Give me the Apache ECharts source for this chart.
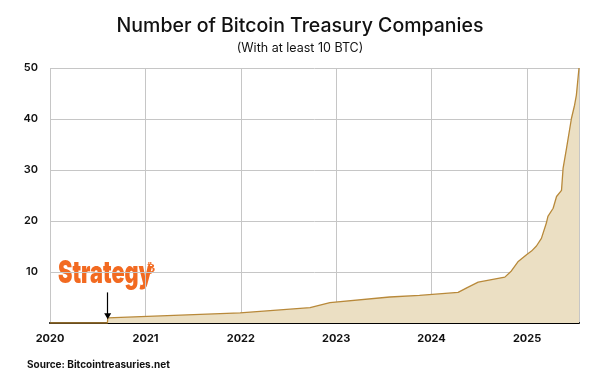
<!DOCTYPE html>
<html>
<head>
<meta charset="utf-8">
<style>
  html, body { margin: 0; padding: 0; background: #fff; }
  #main { width: 600px; height: 375px; }
</style>
<script src="https://cdn.jsdelivr.net/npm/echarts@6/dist/echarts.min.js"></script>
</head>
<body>
<div id="main"></div>
<script>
// dates and company counts
var dates = [
    '2020-01-01', '2020-08-08', '2020-08-09', '2021-12-29', '2022-09-23', '2022-12-08',
    '2023-07-25', '2023-11-16', '2024-04-12', '2024-05-15', '2024-06-28', '2024-10-08',
    '2024-11-02', '2024-11-27', '2024-12-30', '2025-01-18', '2025-02-06', '2025-02-25',
    '2025-03-16', '2025-03-22', '2025-04-11', '2025-04-24', '2025-05-13', '2025-05-19',
    '2025-06-01', '2025-06-20', '2025-07-02', '2025-07-09', '2025-07-19'
];
var companies = [
    0, 0, 1, 2, 3, 4,
    5.1, 5.4, 6, 6.9, 8, 9,
    10.2, 12, 13.4, 14.1, 15.1, 16.6,
    19.6, 20.9, 22.5, 24.8, 26, 30.3,
    34.2, 40.1, 42.7, 44.7, 50
];
var yTicks = [0, 10, 20, 30, 40, 50];
var strategyDate = '2020-08-09';

var myChart = echarts.init(document.getElementById('main'));

var YEAR = 365 * 24 * 3600 * 1000;

myChart.setOption({
    backgroundColor: '#fff',
    animation: false,
    title: [{
        text: 'Number of Bitcoin Treasury Companies',
        left: 'center',
        top: 11,
        textStyle: { fontFamily: 'Inter', fontSize: 19.5, fontWeight: 500, color: '#111' }
    }, {
        text: '(With at least 10 BTC)',
        left: 'center',
        top: 37,
        textStyle: { fontFamily: 'Inter', fontSize: 12.5, fontWeight: 'normal', color: '#111' }
    }, {
        text: 'Source: Bitcointreasuries.net',
        left: 22,
        top: 355,
        textStyle: { fontFamily: 'Inter', fontSize: 10, fontWeight: 'bold', color: '#111' }
    }],
    grid: { left: 50, right: 21, top: 68, bottom: 52 },
    xAxis: {
        type: 'time',
        min: dates[0],
        max: dates[dates.length - 1],
        minInterval: YEAR,
        maxInterval: YEAR,
        axisLine: { lineStyle: { color: '#000', width: 2 } },
        axisTick: { show: false },
        axisLabel: {
            formatter: '{yyyy}',
            fontFamily: 'Inter',
            fontSize: 11,
            fontWeight: 'bold',
            color: '#111',
            margin: 10,
            showMaxLabel: false
        },
        splitLine: { show: true, lineStyle: { color: '#c6c6c6', width: 1 } }
    },
    yAxis: {
        type: 'value',
        min: yTicks[0],
        max: yTicks[yTicks.length - 1],
        interval: 10,
        axisLine: { show: false },
        axisTick: { show: false },
        axisLabel: {
            fontFamily: 'Inter',
            fontSize: 11,
            fontWeight: 600,
            color: '#111',
            margin: 12,
            showMinLabel: false
        },
        splitLine: { lineStyle: { color: '#c6c6c6', width: 1 } }
    },
    series: [{
        name: 'Companies',
        type: 'line',
        symbol: 'none',
        data: dates.map(function (d, i) {
            return [d, companies[i]];
        }),
        lineStyle: { color: '#b8893a', width: 1.3 },
        areaStyle: { color: '#ebdfc3', opacity: 1 },
        markLine: {
            silent: true,
            symbol: ['none', 'triangle'],
            symbolSize: [7, 6],
            label: { show: false },
            lineStyle: { color: '#000', width: 1.2, type: 'solid' },
            data: [[
                { coord: [strategyDate, 6] },
                { coord: [strategyDate, 1.3] }
            ]]
        }
    }],
    graphic: [{
        type: 'text',
        x: 58,
        y: 258,
        scaleX: 0.7,
        style: {
            text: 'Strategy',
            fontFamily: 'Inter',
            fontSize: 31,
            fontWeight: 900,
            fill: '#f26a21'
        }
    }, {
        type: 'text',
        x: 147,
        y: 263,
        style: {
            text: '₿',
            fontFamily: 'DejaVu Sans',
            fontSize: 12,
            fontWeight: 'bold',
            fill: '#f26a21'
        }
    }]
});
</script>
</body>
</html>
